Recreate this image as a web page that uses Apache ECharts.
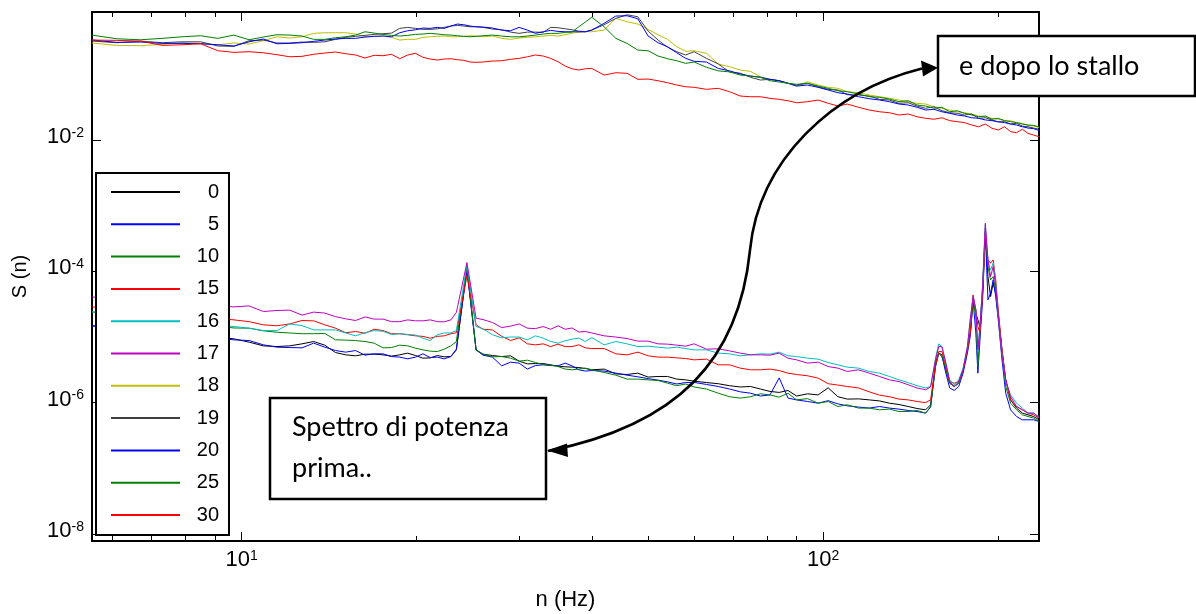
<!DOCTYPE html>
<html><head><meta charset="utf-8">
<script src="https://cdn.jsdelivr.net/npm/echarts@6/dist/echarts.min.js"></script>
<style>html,body{margin:0;padding:0;background:#fff}#c{width:1196px;height:614px}</style>
</head><body><div id="c"></div>
<script>
const seriesNames = ['0','5','10','15','16','17','18','19','20','25','30'];
const seriesColors = ['#000000','#0000FF','#008000','#FF0000','#00BFBF','#BF00BF','#BFBF00','#404040','#0000FF','#008000','#FF0000'];

// frequencies (Hz) of the "before stall" spectra (angles 0..17)
const lowFreq = [5.53, 9.7, 10.3, 10.9, 11.5, 12.1, 12.7, 13.3, 13.9, 14.5, 15.1, 15.7, 16.3, 16.9, 17.5, 18.1, 18.7, 19.3, 19.9, 20.5, 21.1, 21.7, 22.3, 22.9, 23.4, 24.4, 25.3, 26, 27, 28, 29, 30, 31, 32, 33, 34, 35, 36, 37, 38, 39, 40, 42, 44, 46, 48, 50, 52, 54, 56, 58, 60, 63, 66, 69, 72, 75, 78, 81, 84, 87, 90, 94, 98, 102, 106, 110, 115, 120, 125, 130, 135, 140, 145, 150, 153, 156, 158, 160, 162, 165, 168, 171, 174, 177, 179, 181, 183, 184.5, 186, 188, 190, 192, 194, 196, 198, 200, 203, 206, 210, 215, 220, 225, 230, 235];
// frequencies (Hz) of the "after stall" spectra (angles 18..30)
const upFreq = [5.53, 6.1, 6.7, 7.3, 7.9, 8.5, 9.1, 9.7, 10.3, 10.9, 11.5, 12.1, 12.7, 13.3, 13.9, 14.5, 15.1, 15.7, 16.3, 16.9, 17.5, 18.1, 18.7, 19.3, 19.9, 20.5, 21.1, 21.7, 22.3, 22.9, 23.5, 24.1, 24.7, 25.3, 26, 27, 28, 29, 30, 31, 32, 33, 34, 35, 36, 37, 38, 39, 40, 42, 44, 46, 48, 50, 52, 54, 56, 58, 60, 63, 66, 69, 72, 75, 78, 81, 84, 87, 90, 94, 98, 102, 106, 110, 115, 120, 125, 130, 135, 140, 145, 150, 155, 160, 165, 170, 175, 180, 185, 190, 195, 200, 205, 210, 215, 220, 225, 230, 235];

const s0 = [1.48e-5, 9.36e-6,8.34e-6,7.32e-6,7.14e-6,7.32e-6,7.85e-6,8.52e-6,7.50e-6,5.79e-6,5.34e-6,5.16e-6,5.47e-6,5.47e-6,5.34e-6,5.10e-6,5.34e-6,5.67e-6,5.21e-6,4.75e-6,4.80e-6,5.21e-6,4.98e-6,5.03e-6,6.36e-6, 1.13e-4,6.36e-6,
 5.47e-6,5.21e-6,5.03e-6,5.16e-6,4.28e-6,3.89e-6,3.93e-6,3.93e-6,3.76e-6,3.59e-6,3.51e-6,3.47e-6,3.42e-6,3.31e-6,3.16e-6,3.24e-6,2.74e-6,2.68e-6,2.81e-6,2.45e-6,2.50e-6,2.50e-6,2.28e-6,2.22e-6,2.12e-6,2.02e-6,1.94e-6,1.81e-6,1.73e-6,1.76e-6,
 1.61e-6,1.48e-6,1.43e-6,1.53e-6,1.26e-6,1.36e-6,1.31e-6,1.68e-6,1.23e-6,1.13e-6,1.14e-6,1.10e-6,1.06e-6,9.80e-7,9.36e-7,8.72e-7,8.13e-7,7.77e-7,9.26e-7,3.99e-6,5.67e-6,5.03e-6,3.54e-6,1.98e-6,1.76e-6,1.98e-6,3.16e-6,6.36e-6,1.15e-5,3.67e-5,2.31e-5,1.82e-5,1.44e-5,4.91e-5,4.02e-4,8.30e-5,4.12e-5,6.59e-5,4.64e-5,2.04e-5,6.36e-6,2.22e-6,1.10e-6,8.25e-7,6.92e-7,6.52e-7,6.14e-7,5.47e-7];
const s5 = [1.48e-5, 9.04e-6,8.82e-6,7.58e-6,6.99e-6,6.90e-6,6.82e-6,8.04e-6,6.99e-6,6.21e-6,5.87e-6,6.21e-6,5.28e-6,5.53e-6,5.53e-6,5.03e-6,4.93e-6,4.64e-6,4.93e-6,5.53e-6,4.85e-6,4.93e-6,4.64e-6,5.03e-6,6.52e-6, 1.05e-4,6.36e-6,
 5.28e-6,4.93e-6,3.63e-6,4.13e-6,3.99e-6,3.24e-6,3.67e-6,3.76e-6,3.67e-6,3.63e-6,3.99e-6,3.63e-6,3.16e-6,3.02e-6,3.08e-6,3.02e-6,2.81e-6,2.62e-6,2.47e-6,2.32e-6,2.20e-6,2.07e-6,1.92e-6,2.02e-6,2.03e-6,1.89e-6,1.76e-6,1.61e-6,1.46e-6,1.39e-6,
 1.26e-6,1.31e-6,2.38e-6,1.17e-6,1.10e-6,1.04e-6,9.80e-7,1.07e-6,9.56e-7,8.94e-7,8.55e-7,8.25e-7,8.72e-7,8.25e-7,7.96e-7,7.58e-7,7.32e-7,6.92e-7,8.55e-7,3.54e-6,5.67e-6,5.34e-6,3.16e-6,1.67e-6,1.53e-6,1.76e-6,2.81e-6,5.67e-6,1.02e-5,3.67e-5,1.15e-5,2.81e-6,9.04e-6,3.67e-5,3.80e-4,3.67e-5,4.64e-5,7.40e-5,4.12e-5,1.82e-5,4.48e-6,1.39e-6,7.77e-7,6.14e-7,5.47e-7,5.47e-7,5.47e-7,5.15e-7];
const s10 = [2.41e-5, 1.37e-5,1.36e-5,1.24e-5,1.18e-5,1.15e-5,1.12e-5,1.12e-5,1.13e-5,9.04e-6,8.95e-6,8.82e-6,8.52e-6,8.04e-6,6.82e-6,6.90e-6,7.50e-6,7.32e-6,6.75e-6,6.36e-6,6.08e-6,5.99e-6,6.52e-6,7.32e-6,8.52e-6, 1.21e-4,6.36e-6,
 5.47e-6,4.98e-6,5.03e-6,4.75e-6,4.28e-6,4.43e-6,4.08e-6,3.80e-6,3.72e-6,3.54e-6,3.24e-6,3.16e-6,3.24e-6,3.35e-6,3.16e-6,2.88e-6,2.62e-6,2.28e-6,2.28e-6,2.22e-6,2.17e-6,1.98e-6,1.81e-6,1.92e-6,1.73e-6,1.61e-6,1.39e-6,1.23e-6,1.17e-6,1.23e-6,
 1.36e-6,1.31e-6,1.21e-6,1.39e-6,1.10e-6,1.15e-6,9.80e-7,1.04e-6,8.72e-7,9.26e-7,8.25e-7,8.25e-7,7.77e-7,7.96e-7,7.32e-7,7.32e-7,7.58e-7,6.92e-7,8.72e-7,3.54e-6,5.67e-6,5.34e-6,3.54e-6,1.98e-6,1.76e-6,1.98e-6,3.16e-6,6.36e-6,1.15e-5,3.67e-5,2.04e-5,3.54e-6,1.15e-5,5.85e-5,4.53e-4,1.18e-4,7.40e-5,8.30e-5,5.21e-5,2.31e-5,5.67e-6,1.76e-6,9.80e-7,7.77e-7,6.52e-7,6.14e-7,5.81e-7,5.15e-7];
const s15 = [2.87e-5, 1.82e-5,1.71e-5,1.53e-5,1.48e-5,1.58e-5,1.78e-5,1.76e-5,1.53e-5,1.36e-5,1.16e-5,1.21e-5,1.14e-5,1.31e-5,1.25e-5,1.12e-5,1.12e-5,1.08e-5,1.04e-5,1.02e-5,9.59e-6,1.02e-5,1.04e-5,1.12e-5,1.16e-5, 8.51e-5,1.53e-5,
 1.31e-5,1.28e-5,1.02e-5,8.82e-6,9.70e-6,7.85e-6,7.58e-6,7.85e-6,7.14e-6,7.77e-6,7.14e-6,7.14e-6,7.58e-6,6.82e-6,6.66e-6,6.66e-6,5.53e-6,5.34e-6,5.87e-6,5.16e-6,4.93e-6,4.93e-6,4.80e-6,4.69e-6,4.48e-6,4.59e-6,3.76e-6,3.76e-6,3.35e-6,3.16e-6,
 3.16e-6,3.24e-6,3.08e-6,2.81e-6,2.68e-6,2.56e-6,2.36e-6,1.94e-6,1.85e-6,1.76e-6,1.67e-6,1.46e-6,1.30e-6,1.23e-6,1.13e-6,1.10e-6,1.04e-6,1.00e-6,1.10e-6,3.76e-6,5.99e-6,5.99e-6,3.99e-6,2.09e-6,1.98e-6,2.09e-6,3.16e-6,6.36e-6,1.15e-5,4.37e-5,2.59e-5,1.44e-5,1.15e-5,4.64e-5,3.80e-4,1.49e-4,1.33e-4,1.49e-4,7.40e-5,2.59e-5,6.36e-6,2.22e-6,1.10e-6,8.72e-7,7.77e-7,6.92e-7,6.52e-7,5.81e-7];
const s16 = [2.41e-5, 1.44e-5,1.36e-5,1.25e-5,1.25e-5,1.58e-5,1.49e-5,1.28e-5,1.28e-5,1.28e-5,1.15e-5,1.04e-5,1.16e-5,1.25e-5,1.22e-5,1.09e-5,1.12e-5,1.09e-5,1.07e-5,9.59e-6,8.82e-6,1.08e-5,1.15e-5,1.15e-5,1.25e-5, 1.25e-4,1.44e-5,
 1.33e-5,1.08e-5,9.70e-6,9.97e-6,9.97e-6,9.04e-6,1.04e-5,9.59e-6,8.52e-6,8.04e-6,8.73e-6,9.26e-6,9.59e-6,8.52e-6,9.80e-6,7.58e-6,8.52e-6,7.85e-6,7.14e-6,7.24e-6,6.99e-6,6.75e-6,6.99e-6,6.66e-6,6.36e-6,6.36e-6,5.67e-6,5.53e-6,5.16e-6,5.34e-6,
 5.53e-6,5.47e-6,5.87e-6,5.16e-6,5.03e-6,4.75e-6,4.59e-6,4.08e-6,3.76e-6,3.47e-6,3.35e-6,2.98e-6,2.81e-6,2.50e-6,2.22e-6,2.02e-6,1.81e-6,1.67e-6,1.76e-6,4.75e-6,7.85e-6,7.14e-6,4.59e-6,2.22e-6,1.87e-6,2.22e-6,3.35e-6,7.14e-6,1.82e-5,4.12e-5,2.59e-5,5.99e-6,1.44e-5,6.21e-5,5.08e-4,1.40e-4,1.05e-4,1.33e-4,6.59e-5,2.04e-5,5.34e-6,2.09e-6,1.31e-6,9.80e-7,8.25e-7,6.92e-7,6.92e-7,6.14e-7];
const s17 = [4.07e-5, 2.87e-5,2.97e-5,2.44e-5,2.53e-5,2.56e-5,2.15e-5,2.39e-5,2.31e-5,2.04e-5,1.89e-5,1.78e-5,2.02e-5,1.87e-5,1.87e-5,1.71e-5,1.71e-5,1.82e-5,1.76e-5,1.76e-5,1.82e-5,1.71e-5,1.70e-5,1.82e-5,2.36e-5, 1.36e-4,1.93e-5,
 1.84e-5,1.66e-5,1.39e-5,1.46e-5,1.58e-5,1.36e-5,1.34e-5,1.44e-5,1.31e-5,1.48e-5,1.31e-5,1.37e-5,1.19e-5,1.21e-5,1.15e-5,1.04e-5,9.97e-6,9.46e-6,8.64e-6,8.64e-6,7.85e-6,7.77e-6,7.50e-6,7.24e-6,7.85e-6,6.52e-6,6.59e-6,6.14e-6,5.67e-6,5.34e-6,
 5.34e-6,5.28e-6,5.67e-6,4.75e-6,4.48e-6,3.99e-6,4.13e-6,3.54e-6,3.35e-6,2.98e-6,3.16e-6,2.81e-6,2.50e-6,2.22e-6,2.09e-6,1.87e-6,1.67e-6,1.57e-6,1.73e-6,4.48e-6,7.14e-6,7.14e-6,4.48e-6,2.09e-6,1.76e-6,2.09e-6,3.16e-6,7.14e-6,1.82e-5,4.12e-5,2.59e-5,6.36e-6,1.44e-5,5.85e-5,5.39e-4,1.49e-4,8.30e-5,1.18e-4,5.85e-5,2.04e-5,5.03e-6,2.22e-6,1.23e-6,8.72e-7,7.77e-7,6.92e-7,6.92e-7,5.81e-7];
const s18 = [0.300,0.276,0.273,0.286,0.303,0.296,0.282,0.300,0.289,0.325,0.373,0.357,0.373,0.421,0.430,0.430,0.430,0.411,0.373,0.379,0.383,0.366,0.333,0.341,0.341,
 0.366,0.373,0.379,0.383,0.373,0.373,0.379,0.387,0.383,0.373,0.383,0.353,0.341,0.357,0.366,0.373,0.383,0.392,0.383,0.401,0.425,0.436,0.445,0.445,0.472,0.712,0.632,0.583,0.484,0.401,0.341,0.263,0.224,0.229,0.209,0.144,0.1305,0.1162,0.111,0.0920,0.0839,0.0799,0.0730,0.066,
 0.0772,0.0687,0.0634,0.0612,0.0544,0.0525,0.0484,0.0456,0.0431,0.0406,0.0383,0.0362,0.0353,0.0321,0.0304,0.0286,0.0269,0.0260,0.0249,0.0232,0.0226,0.0214,0.0207,0.0197,0.0197,0.0184,0.0179,0.0167,0.0163,0.0154];
const s19 = [0.321,0.303,0.321,0.303,0.313,0.313,0.270,0.267,0.325,0.333,0.300,0.300,0.310,0.307,0.313,0.341,0.366,0.379,0.392,0.406,0.415,0.425,0.501,0.519,0.501,
 0.484,0.484,0.494,0.519,0.544,0.557,0.544,0.530,0.530,0.519,0.489,0.477,0.440,0.421,0.440,0.440,0.436,0.519,0.512,0.494,0.477,0.456,0.445,0.472,0.569,0.712,0.807,0.753,0.456,0.333,0.258,0.221,0.197,0.221,0.175,0.144,0.109,0.104,0.0901,0.0819,0.0839,0.0799,0.0730,0.0687,
 0.0730,0.0647,0.0591,0.0577,0.0489,0.0484,0.0467,0.0416,0.0406,0.0362,0.0369,0.0329,0.0304,0.0321,0.0279,0.0260,0.0255,0.0240,0.0249,0.0214,0.0218,0.0202,0.0188,0.0190,0.0175,0.0179,0.0163,0.0159,0.0152,0.0146];
const s20 = [0.333,0.307,0.310,0.296,0.296,0.292,0.282,0.270,0.313,0.345,0.292,0.296,0.303,0.318,0.333,0.345,0.353,0.353,0.370,0.379,0.383,0.373,0.430,0.461,0.477,
 0.507,0.501,0.519,0.501,0.544,0.583,0.569,0.544,0.530,0.525,0.507,0.472,0.461,0.519,0.472,0.421,0.445,0.467,0.451,0.445,0.445,0.445,0.445,0.472,0.598,0.772,0.780,0.702,0.383,0.303,0.263,0.213,0.175,0.158,0.154,0.123,0.113,0.101,0.0942,0.0901,0.0839,0.0799,0.0730,0.0663,
 0.0687,0.0634,0.0577,0.0525,0.0501,0.0456,0.0425,0.0406,0.0383,0.0353,0.0341,0.0315,0.0286,0.0293,0.0269,0.0255,0.0240,0.0232,0.0218,0.0214,0.0202,0.0197,0.0190,0.0184,0.0175,0.0169,0.0159,0.0152,0.0149,0.0139];
const s25 = [0.396,0.348,0.336,0.353,0.373,0.387,0.353,0.396,0.336,0.370,0.401,0.396,0.383,0.341,0.341,0.361,0.373,0.396,0.445,0.425,0.406,0.392,0.383,0.392,0.406,
 0.411,0.421,0.411,0.401,0.396,0.387,0.379,0.373,0.379,0.387,0.396,0.383,0.373,0.373,0.383,0.396,0.411,0.421,0.421,0.436,0.440,0.530,0.626,0.740,0.530,0.353,0.296,0.234,0.229,0.190,0.173,0.161,0.147,0.154,0.128,0.113,0.109,0.0976,0.0942,0.0901,0.0799,0.0764,0.0730,0.0704,
 0.0730,0.0663,0.0612,0.0563,0.0544,0.0501,0.0456,0.0447,0.0420,0.0383,0.0396,0.0341,0.0329,0.0304,0.0315,0.0269,0.0279,0.0255,0.0240,0.0226,0.0232,0.0207,0.0214,0.0197,0.0190,0.0184,0.0175,0.0169,0.0167,0.0159];
const s30 = [0.333,0.329,0.321,0.276,0.282,0.292,0.229,0.216,0.221,0.213,0.199,0.185,0.188,0.202,0.211,0.219,0.206,0.197,0.177,0.195,0.192,0.202,0.173,0.197,0.209,
 0.1815,0.171,0.1651,0.171,0.1728,0.1668,0.1634,0.154,0.1524,0.154,0.1594,0.161,0.1692,0.175,0.185,0.197,0.190,0.175,0.1556,0.1337,0.1216,0.1162,0.1216,0.123,0.0976,0.1058,0.1036,0.0839,0.0848,0.0799,0.0745,0.0687,0.0647,0.0634,0.0591,0.0612,0.0544,0.0467,0.0456,0.0456,0.0431,0.0416,0.0396,0.0369,
 0.0383,0.0406,0.0362,0.0329,0.0353,0.0315,0.0286,0.0269,0.0260,0.0240,0.0249,0.0226,0.0214,0.0207,0.0218,0.0197,0.0190,0.0184,0.0169,0.0159,0.0175,0.0151,0.0142,0.0159,0.0134,0.0129,0.0146,0.0126,0.0119,0.0112];

const xMajorTicks = [10, 100];
const xMinorTicks = [6, 7, 8, 9, 20, 30, 40, 50, 60, 70, 80, 90, 200];
const yMajorTicks = [1e-8, 1e-6, 1e-4, 1e-2];
const X_MIN = 5.53, X_MAX = 235, Y_MIN = 7.8e-9, Y_MAX = 0.89;

const FONT = 'Liberation Sans';
const seriesValues = [s0, s5, s10, s15, s16, s17, s18, s19, s20, s25, s30];
const seriesFreq = [lowFreq, lowFreq, lowFreq, lowFreq, lowFreq, lowFreq, upFreq, upFreq, upFreq, upFreq, upFreq];

function powLabel(v) {
  const e = Math.round(Math.log10(v));
  return '{b|10}{s|' + e + '}';
}
const rich = {
  b: { fontFamily: FONT, fontSize: 22, lineHeight: 22, verticalAlign: 'bottom', color: '#000' },
  s: { fontFamily: FONT, fontSize: 14, lineHeight: 14, verticalAlign: 'top', padding: [0, 0, 15, 0], color: '#000' }
};
const blk = { color: '#000' };
const xBase = { type: 'log', logBase: 10, min: X_MIN, max: X_MAX, gridIndex: 0, splitLine: { show: false }, minorTick: { show: false }, minorSplitLine: { show: false } };
const yBase = { type: 'log', logBase: 10, min: Y_MIN, max: Y_MAX, gridIndex: 0, splitLine: { show: false }, minorTick: { show: false }, minorSplitLine: { show: false } };

const chart = echarts.init(document.getElementById('c'), null, { renderer: 'canvas' });
chart.setOption({
  animation: false,
  backgroundColor: '#fff',
  grid: { left: 92, right: 157, top: 12, bottom: 73, containLabel: false, outerBoundsMode: 'none' },
  xAxis: [
    Object.assign({}, xBase, {
      position: 'bottom',
      axisLine: { show: true, lineStyle: { color: '#000', width: 2 } },
      axisTick: { show: true, inside: true, length: 9, customValues: xMajorTicks, lineStyle: blk },
      axisLabel: { show: true, customValues: xMajorTicks, formatter: powLabel, rich: rich, margin: 8 },
      name: 'n (Hz)', nameLocation: 'middle', nameGap: 48,
      nameTextStyle: { fontFamily: FONT, fontSize: 22, color: '#000' }
    }),
    Object.assign({}, xBase, {
      position: 'bottom', axisLine: { show: false },
      axisTick: { show: true, inside: true, length: 5, customValues: xMinorTicks, lineStyle: blk },
      axisLabel: { show: false }
    }),
    Object.assign({}, xBase, {
      position: 'top',
      axisLine: { show: true, lineStyle: { color: '#000', width: 2 } },
      axisTick: { show: true, inside: true, length: 9, customValues: xMajorTicks, lineStyle: blk },
      axisLabel: { show: false }
    }),
    Object.assign({}, xBase, {
      position: 'top', axisLine: { show: false },
      axisTick: { show: true, inside: true, length: 5, customValues: xMinorTicks, lineStyle: blk },
      axisLabel: { show: false }
    })
  ],
  yAxis: [
    Object.assign({}, yBase, {
      position: 'left',
      axisLine: { show: true, lineStyle: { color: '#000', width: 2 } },
      axisTick: { show: true, inside: true, length: 9, customValues: yMajorTicks, lineStyle: blk },
      axisLabel: { show: true, customValues: yMajorTicks, formatter: powLabel, rich: rich, margin: 8, padding: [0, 0, 6, 0] },
      name: 'S (n)', nameLocation: 'middle', nameRotate: 90, nameGap: 62,
      nameTextStyle: { fontFamily: FONT, fontSize: 20, color: '#000' }
    }),
    Object.assign({}, yBase, {
      position: 'right',
      axisLine: { show: true, lineStyle: { color: '#000', width: 2 } },
      axisTick: { show: true, inside: true, length: 9, customValues: yMajorTicks, lineStyle: blk },
      axisLabel: { show: false }
    })
  ],
  legend: {
    data: seriesNames, orient: 'vertical', left: 96, top: 173,
    padding: [9, 10, 10, 14], itemGap: 12.3, itemWidth: 69, itemHeight: 20,
    backgroundColor: '#fff', borderColor: '#000', borderWidth: 2, borderRadius: 0,
    selectedMode: false,
    itemStyle: { opacity: 0, borderWidth: 0 },
    formatter: function (n) { return '{a|' + n + '}'; },
    textStyle: { fontFamily: FONT, fontSize: 20, color: '#000',
      rich: { a: { width: 34, align: 'right', fontFamily: FONT, fontSize: 20, lineHeight: 20, color: '#000' } } }
  },
  series: seriesNames.map(function (name, i) {
    return {
      name: name, type: 'line', xAxisIndex: 0, yAxisIndex: 0,
      data: seriesFreq[i].map(function (f, j) { return [f, seriesValues[i][j]]; }),
      showSymbol: false, symbol: 'none', clip: true,
      lineStyle: { width: 1, color: seriesColors[i] }, itemStyle: { color: seriesColors[i] },
      emphasis: { disabled: true }
    };
  }),
  graphic: [
    { type: 'bezierCurve', z: 100, shape: { x1: 548, y1: 451, cpx1: 678, cpy1: 425, cpx2: 739, cpy2: 360, x2: 750, y2: 250 }, style: { stroke: '#000', lineWidth: 2.6, fill: 'none' } },
    { type: 'bezierCurve', z: 100, shape: { x1: 750, y1: 250, cpx1: 759, cpy1: 160, cpx2: 832, cpy2: 91, x2: 922, y2: 68.5 }, style: { stroke: '#000', lineWidth: 2.6, fill: 'none' } },
    { type: 'polygon', z: 101, shape: { points: [[547, 450.5], [567, 443.5], [568, 457]] }, style: { fill: '#000' } },
    { type: 'polygon', z: 101, shape: { points: [[938, 67.7], [921, 60.5], [923, 76.5]] }, style: { fill: '#000' } },
    { type: 'rect', z: 102, shape: { x: 270, y: 398, width: 276, height: 101 }, style: { fill: '#fff', stroke: '#000', lineWidth: 2.5 } },
    { type: 'text', z: 103, x: 292, y: 427, style: { text: 'Spettro di potenza', fontFamily: 'Lato', fontSize: 27, fill: '#000', verticalAlign: 'middle' } },
    { type: 'text', z: 103, x: 292, y: 468.5, style: { text: 'prima..', fontFamily: 'Lato', fontSize: 27, fill: '#000', verticalAlign: 'middle' } },
    { type: 'rect', z: 102, shape: { x: 938, y: 36, width: 257, height: 60 }, style: { fill: '#fff', stroke: '#000', lineWidth: 2.5 } },
    { type: 'text', z: 103, x: 959, y: 66, style: { text: 'e dopo lo stallo', fontFamily: 'Lato', fontSize: 27, fill: '#000', verticalAlign: 'middle' } }
  ]
});
</script></body></html>
